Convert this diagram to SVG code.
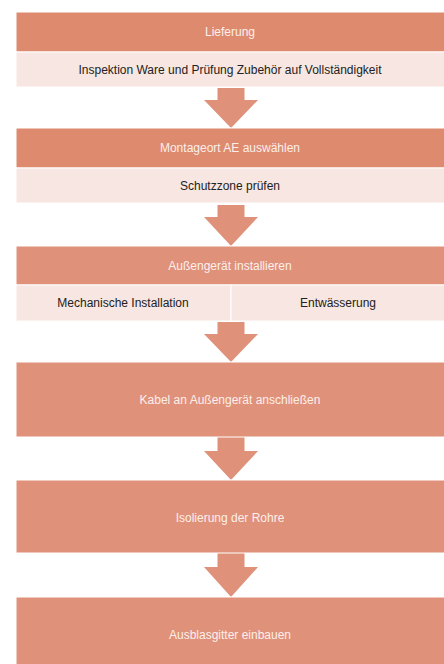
<svg xmlns="http://www.w3.org/2000/svg" width="444" height="664" viewBox="0 0 444 664">
<style>
.hd{fill:#DE8A6F;stroke:#FFFFFF;stroke-width:1}
.hd2{fill:#E0917A;stroke:#FFFFFF;stroke-width:1}
.lt{fill:#F7E6E1;stroke:#FFFFFF;stroke-width:1}
.ar{fill:#E0917A}
text{font-family:"Liberation Sans",Arial,sans-serif;font-size:12px;text-anchor:middle;dominant-baseline:central}
.tw{fill:#FCEFEA}
.td{fill:#222222}
</style>
<rect width="444" height="664" fill="#FFFFFF"/>
<g id="connectors">
<polygon class="ar" points="217.5,88 244.5,88 244.5,100 258,100 231,128 204,100 217.5,100"/>
<polygon class="ar" points="217.5,205 244.5,205 244.5,217 258,217 231,246 204,217 217.5,217"/>
<polygon class="ar" points="217.5,322 244.5,322 244.5,334 258,334 231,362 204,334 217.5,334"/>
<polygon class="ar" points="217.5,437 244.5,437 244.5,451 258,451 231,480 204,451 217.5,451"/>
<polygon class="ar" points="217.5,553 244.5,553 244.5,567 258,567 231,597 204,567 217.5,567"/>
</g>
<g id="n1">
<rect class="hd" x="16" y="12" width="429" height="40"/>
<text class="tw" x="230" y="32">Lieferung</text>
</g>
<g id="n1b">
<rect class="lt" x="16" y="52" width="429" height="35"/>
<text class="td" x="230" y="70">Inspektion Ware und Prüfung Zubehör auf Vollständigkeit</text>
</g>
<g id="n2">
<rect class="hd" x="16" y="128" width="429" height="40"/>
<text class="tw" x="230" y="148">Montageort AE auswählen</text>
</g>
<g id="n2b">
<rect class="lt" x="16" y="168" width="429" height="35"/>
<text class="td" x="230" y="186">Schutzzone prüfen</text>
</g>
<g id="n3">
<rect class="hd2" x="16" y="246" width="429" height="39"/>
<text class="tw" x="230" y="266">Außengerät installieren</text>
</g>
<g id="n3a">
<rect class="lt" x="16" y="285" width="215" height="36"/>
<text class="td" x="123" y="303">Mechanische Installation</text>
</g>
<g id="n3b">
<rect class="lt" x="231" y="285" width="214" height="36"/>
<text class="td" x="338" y="303">Entwässerung</text>
</g>
<g id="n4">
<rect class="hd2" x="16" y="362" width="429" height="75"/>
<text class="tw" x="230" y="400">Kabel an Außengerät anschließen</text>
</g>
<g id="n5">
<rect class="hd2" x="16" y="480" width="429" height="73"/>
<text class="tw" x="230" y="518">Isolierung der Rohre</text>
</g>
<g id="n6">
<rect class="hd2" x="16" y="597" width="429" height="68"/>
<text class="tw" x="230" y="635">Ausblasgitter einbauen</text>
</g>
</svg>
